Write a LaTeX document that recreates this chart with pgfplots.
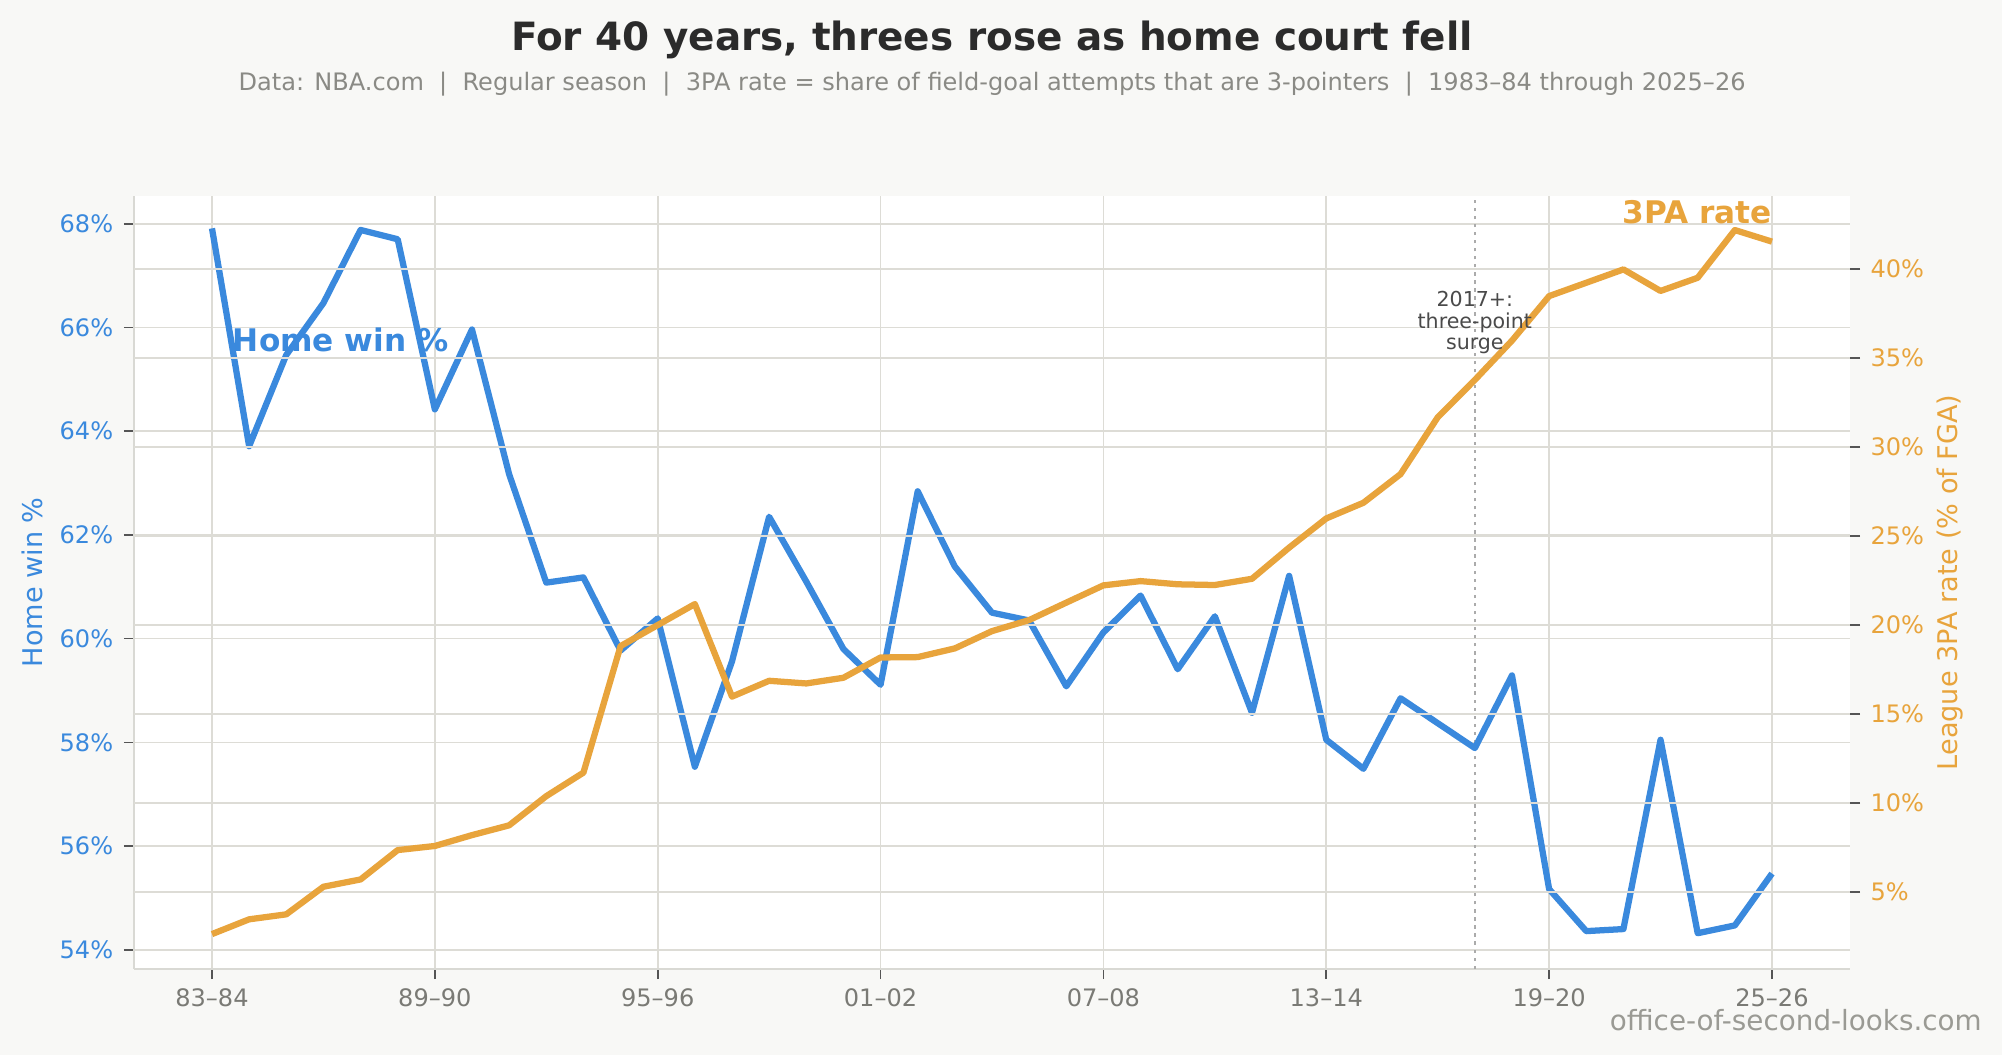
\documentclass[border=0pt]{standalone}
\usepackage{pgfplots}
\usepackage{pgfplotstable}
\pgfplotsset{compat=1.18}
\usepackage{fontspec}
\setmainfont{DejaVu Sans}
\definecolor{bg}{HTML}{F8F8F6}
\definecolor{hwblue}{HTML}{3A89DD}
\definecolor{tpaorange}{HTML}{E8A43C}
\definecolor{gridc}{HTML}{DDDCD6}
\definecolor{spinec}{HTML}{D9D9D4}
\definecolor{tickc}{HTML}{555555}
\definecolor{titlec}{HTML}{2B2B2B}
\definecolor{subc}{HTML}{8A8A85}
\definecolor{xlabc}{HTML}{7A7A75}
\definecolor{wmc}{HTML}{9A9A94}
\definecolor{annc}{HTML}{4A4A4A}
\definecolor{vlc}{HTML}{ABABAB}

\pgfplotstableread{
i hw
0 67.91
1 63.71
2 65.47
3 66.47
4 67.88
5 67.70
6 64.42
7 65.96
8 63.17
9 61.08
10 61.18
11 59.77
12 60.39
13 57.53
14 59.56
15 62.35
16 61.10
17 59.80
18 59.11
19 62.84
20 61.39
21 60.50
22 60.35
23 59.08
24 60.12
25 60.83
26 59.41
27 60.43
28 58.57
29 61.21
30 58.05
31 57.49
32 58.85
33 58.37
34 57.89
35 59.29
36 55.17
37 54.36
38 54.40
39 58.05
40 54.32
41 54.47
42 55.47
}\hometable

\pgfplotstableread{
i tpa
0 2.62
1 3.45
2 3.73
3 5.28
4 5.69
5 7.34
6 7.57
7 8.18
8 8.73
9 10.37
10 11.69
11 18.80
12 19.98
13 21.16
14 15.96
15 16.85
16 16.70
17 17.02
18 18.16
19 18.18
20 18.67
21 19.64
22 20.26
23 21.24
24 22.21
25 22.45
26 22.27
27 22.23
28 22.58
29 24.33
30 25.97
31 26.85
32 28.46
33 31.65
34 33.75
35 35.96
36 38.46
37 39.21
38 39.96
39 38.75
40 39.49
41 42.17
42 41.52
}\tpatable

\newcommand{\ticksize}{\fontsize{8.65}{10}\selectfont}

\begin{document}
\begin{tikzpicture}
\fill[bg] (0,0) rectangle (720pt,379.42pt);

\begin{axis}[
  at={(48.19pt,30.93pt)}, anchor=south west,
  scale only axis, width=617.13pt, height=278.1pt,
  xmin=-2.1, xmax=44.1, ymin=53.63, ymax=68.54,
  axis background/.style={fill=white},
  axis x line*=bottom, axis y line*=left,
  axis line style={spinec, line width=1pt, -},
  xtick={0,6,12,18,24,30,36,42},
  xticklabels={83–84,89–90,95–96,01–02,07–08,13–14,19–20,25–26},
  ytick={54,56,58,60,62,64,66,68},
  yticklabels={54\%,56\%,58\%,60\%,62\%,64\%,66\%,68\%},
  tick align=outside, major tick length=3.6pt,
  tick style={tickc, line width=0.6pt},
  xmajorgrids, ymajorgrids,
  grid style={gridc, line width=0.6pt},
  xticklabel style={font=\ticksize, text=xlabc, inner sep=0pt, anchor=north, yshift=-3.4pt},
  yticklabel style={font=\ticksize, text=hwblue, inner sep=0pt, anchor=east, xshift=-3.7pt},
]
\addplot[vlc, line width=0.8pt, dash pattern=on 1.2pt off 1.7pt] coordinates {(34,53.63) (34,68.54)};
\addplot[hwblue, line width=2.25pt, line join=round] table[x=i, y=hw] {\hometable};
\node[anchor=base west, text=hwblue, font=\bfseries\fontsize{11.2}{13}\selectfont, inner sep=0pt] at (axis cs:0.55,65.53) {Home win \%};
\end{axis}

\begin{axis}[
  at={(48.19pt,30.93pt)}, anchor=south west,
  scale only axis, width=617.13pt, height=278.1pt,
  xmin=-2.1, xmax=44.1, ymin=0.66, ymax=44.10,
  axis x line=none, axis y line*=right,
  axis line style={draw=none},
  ytick={5,10,15,20,25,30,35,40},
  yticklabels={5\%,10\%,15\%,20\%,25\%,30\%,35\%,40\%},
  tick align=outside, major tick length=3.6pt,
  tick style={tickc, line width=0.6pt},
  ymajorgrids,
  grid style={gridc, line width=0.6pt},
  yticklabel style={font=\ticksize, text=tpaorange, inner sep=0pt, anchor=west, xshift=3.6pt},
]
\addplot[tpaorange, line width=2.25pt, line join=round] table[x=i, y=tpa] {\tpatable};
\node[anchor=base east, text=tpaorange, font=\bfseries\fontsize{11.2}{13}\selectfont, inner sep=0pt] at (axis cs:42,42.55) {3PA rate};
\node[align=center, text=annc, font=\fontsize{7.4}{7.7}\selectfont, inner sep=0pt] at (axis cs:34,36.97) {2017+:\\three-point\\surge};
\end{axis}

\node[anchor=base, text=titlec, font=\bfseries\fontsize{14}{16}\selectfont, inner sep=0pt] at (356.8pt,361.2pt) {For 40 years, threes rose as home court fell};
\node[anchor=base, text=subc, font=\fontsize{8.65}{10}\selectfont, inner sep=0pt] at (356.8pt,347.0pt) {Data: NBA.com~~|~~Regular season~~|~~3PA rate = share of field-goal attempts that are 3-pointers~~|~~1983–84 through 2025–26};
\node[rotate=90, anchor=center, text=hwblue, font=\fontsize{9.75}{12}\selectfont] at (11.5pt,169.98pt) {Home win \%};
\node[rotate=90, anchor=center, text=tpaorange, font=\fontsize{9.75}{12}\selectfont] at (701.2pt,169.98pt) {League 3PA rate (\% of FGA)};
\node[anchor=base east, text=wmc, font=\fontsize{10}{12}\selectfont, inner sep=0pt] at (712.9pt,8.9pt) {office-of-second-looks.com};

\pgfresetboundingbox
\useasboundingbox (0,0) rectangle (720pt,379.42pt);
\end{tikzpicture}
\end{document}
